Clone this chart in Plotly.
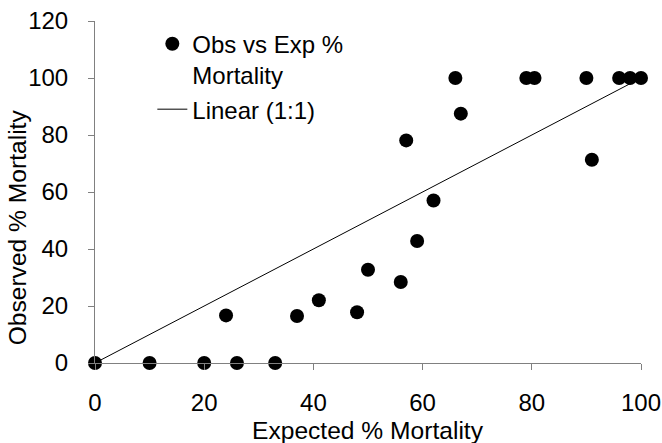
import plotly.graph_objects as go

expected = [0, 10, 20, 26, 33, 24, 37, 41, 48, 50, 56, 57, 59, 62, 66, 67, 79, 80.5, 90, 91, 96, 98, 100]
observed = [0, 0, 0, 0, 0, 16.7, 16.5, 22, 17.8, 32.7, 28.4, 78.1, 42.8, 57, 100, 87.5, 100, 100, 100, 71.3, 100, 100, 100]
line_x = [0, 100]
line_y = [0, 100]
x_ticks = [0, 20, 40, 60, 80, 100]
y_ticks = [0, 20, 40, 60, 80, 100, 120]

fnt = dict(family="Liberation Sans, Arial, sans-serif", color="black")

fig = go.Figure()
fig.add_trace(go.Scatter(
    x=expected, y=observed, mode="markers",
    marker=dict(color="black", size=14),
    name="Obs vs Exp %<br>Mortality",
))
fig.add_trace(go.Scatter(
    x=line_x, y=line_y, mode="lines",
    line=dict(color="black", width=1),
    name="Linear (1:1)",
))

fig.update_layout(
    width=662, height=443,
    margin=dict(l=95, r=21, t=21, b=80, autoexpand=False),
    paper_bgcolor="white", plot_bgcolor="white",
    font=dict(size=24, **fnt),
    showlegend=True,
    legend=dict(x=0.105, y=0.998, xanchor="left", yanchor="top", valign="top",
                bgcolor="rgba(0,0,0,0)", font=dict(size=24, **fnt),
                tracegroupgap=0, itemwidth=30),
    annotations=[
        dict(text="Expected % Mortality", xref="paper", yref="paper",
             x=0.5, y=-0.198, xanchor="center", yanchor="middle",
             showarrow=False, font=dict(size=24.6, **fnt)),
        dict(text="Observed % Mortality", xref="paper", yref="paper",
             x=-0.142, y=0.398, xanchor="center", yanchor="middle",
             textangle=-90, showarrow=False, font=dict(size=24.6, **fnt)),
    ],
)
fig.update_xaxes(
    range=[0, 100], tickvals=x_ticks, automargin=False,
    showgrid=False, zeroline=False, showline=True, linecolor="#808080", linewidth=1,
    ticks="outside", ticklen=6, tickcolor="#808080",
    tickfont=dict(size=24, **fnt), ticklabelstandoff=12,
)
fig.update_yaxes(
    range=[0, 120], tickvals=y_ticks, automargin=False,
    showgrid=False, zeroline=False, showline=True, linecolor="#808080", linewidth=1,
    ticks="outside", ticklen=6, tickcolor="#808080",
    tickfont=dict(size=24, **fnt), ticklabelstandoff=15,
)
fig.update_traces(cliponaxis=False)

fig.write_html("out.html")
